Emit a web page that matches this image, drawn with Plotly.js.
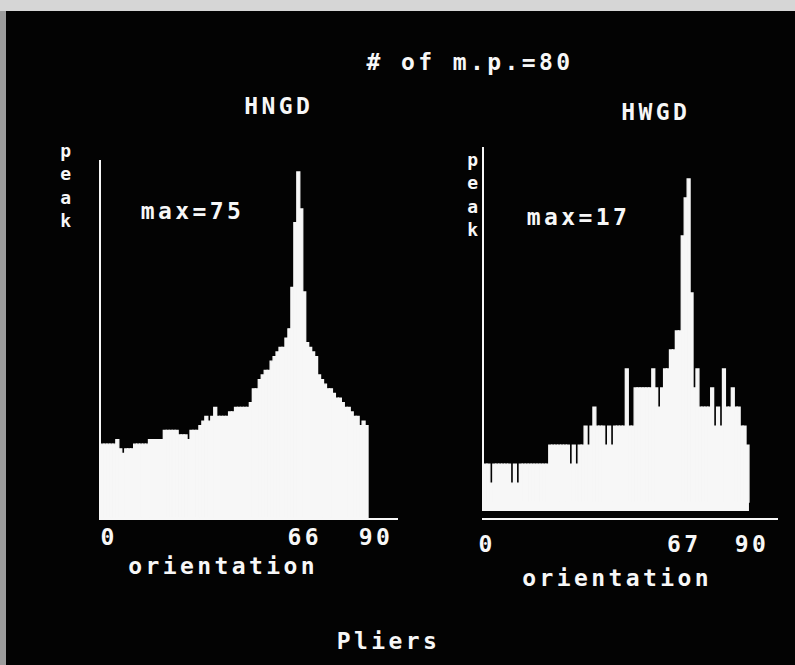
<!DOCTYPE html>
<html><head><meta charset="utf-8">
<script src="https://cdn.plot.ly/plotly-3.0.1.min.js"></script>
<style>
html,body{margin:0;padding:0;background:#000;}
#chart text{letter-spacing:3.4px;}
</style></head>
<body><div id="chart" style="width:795px;height:665px"></div>
<script>
// ---- data ----
const numPoints = 80;                       // "# of m.p."
const hngdCounts = [16,16,16,16,16,17,15,14,15,15,
                    15,16,16,16,16,16,17,17,17,17,
                    17,19,19,19,19,19,18,18,18,17,
                    19,19,19,20,21,22,21,22,24,22,
                    22,22,22,23,23,24,24,24,24,24,
                    25,28,28,30,31,32,32,34,35,36,
                    37,37,39,41,50,64,75,67,49,38,
                    37,36,35,31,30,29,28,28,27,26,
                    26,25,24,24,23,22,22,20,21,20];
const hwgdCounts = [2,2,1,2,2,2,2,2,2,1,
                    2,1,2,2,2,2,2,2,2,2,
                    2,2,3,3,3,3,3,3,3,2,
                    3,2,3,3,4,3,4,5,4,4,
                    4,3,4,3,4,4,4,4,7,4,
                    4,6,6,6,6,6,6,7,6,5,
                    6,7,7,8,8,9,9,14,16,17,
                    11,6,7,5,5,5,5,6,4,5,
                    4,7,5,5,6,5,5,4,4,3];
const hngdTicks = [0, 66, 90];
const hwgdTicks = [0, 67, 90];
const orientationBins = hngdCounts.map((_, i) => i);   // 0..89 degrees

// ---- styling ----
const FONT = 'DejaVu Sans Mono';
const WHITE = '#f7f7f7';
const Y2_MIN = -0.47;

const barStyle = {color: WHITE, line: {color: WHITE, width: 1.3}};
const traces = [
  {type: 'bar', x: orientationBins, y: hngdCounts, offset: 0, width: 1,
   marker: barStyle, xaxis: 'x', yaxis: 'y', hoverinfo: 'skip'},
  {type: 'bar', x: orientationBins, y: hwgdCounts, offset: 0, width: 1,
   marker: barStyle, xaxis: 'x2', yaxis: 'y2', hoverinfo: 'skip'}
];

function xAxis(domain, ticks, shift, standoff) {
  return {domain: domain, range: [0, 100], showgrid: false, zeroline: false,
    showline: true, linecolor: WHITE, linewidth: 2, ticks: '',
    tickmode: 'array', tickvals: ticks, ticktext: ticks.map(String),
    tickfont: {family: FONT, size: 23, color: WHITE, weight: 'bold'},
    ticklabelshift: shift, ticklabelstandoff: standoff, fixedrange: true};
}
function yAxis(domain, range, anchor) {
  return {domain: domain, range: range, showgrid: false, zeroline: false,
    showline: true, linecolor: WHITE, linewidth: 2, ticks: '',
    showticklabels: false, anchor: anchor, fixedrange: true};
}

const hMax = Math.max(...hngdCounts), wMax = Math.max(...hwgdCounts);
function ann(text, x, y, size) {
  return {text: text, xref: 'paper', yref: 'paper', x: x / 795, y: 1 - y / 665,
    xanchor: 'center', yanchor: 'middle', showarrow: false,
    font: {family: FONT, size: size || 23, color: WHITE, weight: 'bold'}};
}

const layout = {
  width: 795, height: 665, autosize: false,
  margin: {l: 0, r: 0, t: 0, b: 0, pad: 0},
  paper_bgcolor: '#030303', plot_bgcolor: '#030303',
  showlegend: false, bargap: 0,
  xaxis: xAxis([101 / 795, 397.7 / 795], hngdTicks, 8, -3),
  yaxis: yAxis([(665 - 518) / 665, (665 - 160) / 665], [0, 77.6], 'x'),
  xaxis2: xAxis([484 / 795, 778.4 / 795], hwgdTicks, 3, 4),
  yaxis2: yAxis([(665 - 511) / 665, (665 - 147) / 665], [Y2_MIN, 18.68], 'x2'),
  shapes: [
    {type: 'rect', xref: 'paper', yref: 'paper', x0: 0, x1: 1, y0: 1 - 11 / 665, y1: 1,
     fillcolor: '#d6d6d6', line: {width: 0}},
    {type: 'rect', xref: 'paper', yref: 'paper', x0: 0, x1: 6 / 795, y0: 0, y1: 1 - 11 / 665,
     fillcolor: '#9c9c9c', line: {width: 0}},
    {type: 'rect', xref: 'x2', yref: 'y2', x0: 0, x1: hwgdCounts.length, y0: Y2_MIN, y1: 0,
     fillcolor: WHITE, line: {width: 0}}
  ],
  annotations: [
    ann('# of m.p.=' + numPoints, 470, 62),
    ann('HNGD', 278, 106),
    ann('HWGD', 655, 112),
    ann('max=' + hMax, 192, 211),
    ann('max=' + wMax, 578, 217),
    ann('p<br>e<br>a<br>k', 67, 186, 18),
    ann('p<br>e<br>a<br>k', 474, 194, 18),
    ann('orientation', 223, 566),
    ann('orientation', 617, 578),
    ann('Pliers', 388, 641)
  ]
};

Plotly.newPlot('chart', traces, layout, {staticPlot: true, displayModeBar: false});
</script>
</body></html>
